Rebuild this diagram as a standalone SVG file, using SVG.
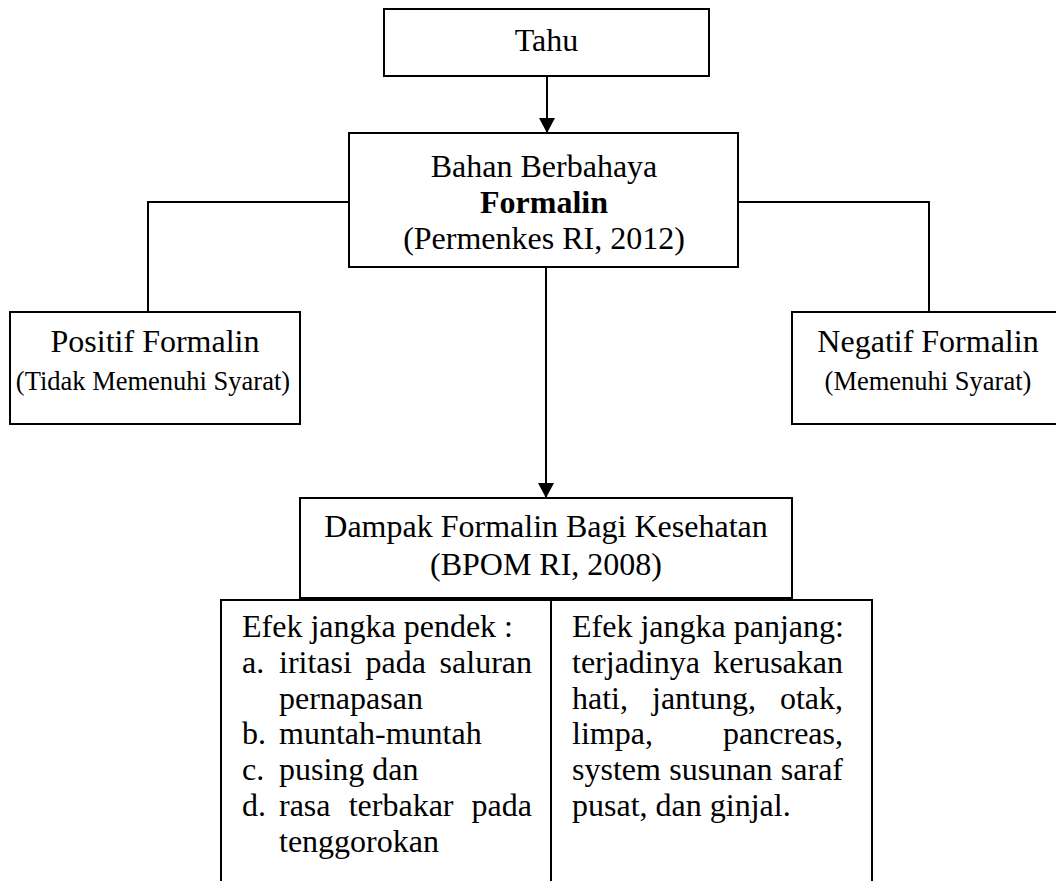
<svg xmlns="http://www.w3.org/2000/svg" width="1056" height="881" viewBox="0 0 1056 881">
<style>
.box{fill:#fff;stroke:#000;stroke-width:2}
.ln{fill:none;stroke:#000;stroke-width:2}
text{font-family:"Liberation Serif","Times New Roman",serif;fill:#000}
.t{font-size:32px}
.s{font-size:26.5px}
.c{text-anchor:middle}
.e{text-anchor:end}
.b{font-weight:bold}
</style>
<defs>
<marker id="arr" markerWidth="16" markerHeight="16" refX="15" refY="8" orient="auto" markerUnits="userSpaceOnUse">
<path d="M0,0 L15,8 L0,16 Z" fill="#000"/>
</marker>
</defs>
<rect width="1056" height="881" fill="#fff"/>
<g id="connectors">
<line class="ln" x1="547" y1="76" x2="547" y2="133" marker-end="url(#arr)"/>
<line class="ln" x1="546" y1="267" x2="546" y2="498" marker-end="url(#arr)"/>
<polyline class="ln" points="349,202 148,202 148,312"/>
<polyline class="ln" points="738,202 929,202 929,312"/>
</g>
<g id="tahu">
<rect class="box" x="384" y="9" width="325" height="67"/>
<text class="t c" x="546.5" y="51">Tahu</text>
</g>
<g id="bahan">
<rect class="box" x="349" y="133" width="389" height="134"/>
<text class="t c" x="544" y="177">Bahan Berbahaya</text>
<text class="t c b" x="544" y="213">Formalin</text>
<text class="t c" x="544" y="249">(Permenkes RI, 2012)</text>
</g>
<g id="positif">
<rect class="box" x="10" y="312" width="290" height="112"/>
<text class="t c" x="155" y="352">Positif Formalin</text>
<text class="s c" x="153" y="390">(Tidak Memenuhi Syarat)</text>
</g>
<g id="negatif">
<rect class="box" x="792" y="312" width="272" height="112"/>
<text class="t c" x="928" y="352">Negatif Formalin</text>
<text class="s c" x="928" y="390">(Memenuhi Syarat)</text>
</g>
<g id="dampak">
<rect class="box" x="300" y="498" width="492" height="100"/>
<text class="t c" x="546" y="537">Dampak Formalin Bagi Kesehatan</text>
<text class="t c" x="546" y="575">(BPOM RI, 2008)</text>
</g>
<g id="table">
<polyline class="ln" points="221,890 221,600 872,600 872,890"/>
<line class="ln" x1="551" y1="600" x2="551" y2="890"/>
<g id="short-term">
<text class="t" x="242" y="637">Efek jangka pendek :</text>
<text class="t" x="242" y="673">a.</text>
<text class="t" x="279" y="673">iritasi</text>
<text class="t" x="365.5" y="673">pada</text>
<text class="t e" x="532" y="673">saluran</text>
<text class="t" x="279" y="709">pernapasan</text>
<text class="t" x="242" y="744">b.</text>
<text class="t" x="279" y="744">muntah-muntah</text>
<text class="t" x="242" y="780">c.</text>
<text class="t" x="279" y="780">pusing dan</text>
<text class="t" x="242" y="816">d.</text>
<text class="t" x="279" y="816">rasa</text>
<text class="t" x="348.7" y="816">terbakar</text>
<text class="t e" x="532" y="816">pada</text>
<text class="t" x="279" y="852">tenggorokan</text>
</g>
<g id="long-term">
<text class="t" x="572" y="637">Efek jangka panjang:</text>
<text class="t" x="572" y="673">terjadinya</text>
<text class="t e" x="843" y="673">kerusakan</text>
<text class="t" x="572" y="709">hati,</text>
<text class="t" x="652" y="709">jantung,</text>
<text class="t e" x="843" y="709">otak,</text>
<text class="t" x="572" y="744">limpa,</text>
<text class="t e" x="843" y="744">pancreas,</text>
<text class="t" x="572" y="780">system</text>
<text class="t" x="669.3" y="780">susunan</text>
<text class="t e" x="843" y="780">saraf</text>
<text class="t" x="572" y="816">pusat, dan ginjal.</text>
</g>
</g>
</svg>
